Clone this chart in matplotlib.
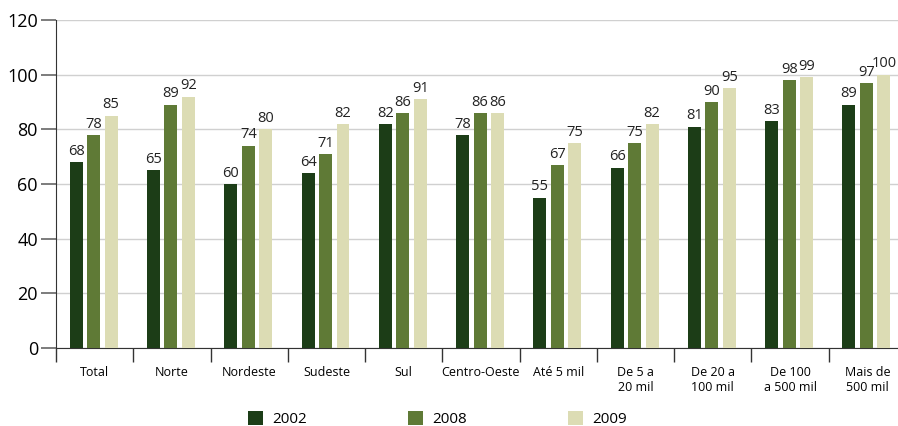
import matplotlib.pyplot as plt
import numpy as np

categories = ['Total', 'Norte', 'Nordeste', 'Sudeste', 'Sul', 'Centro-Oeste',
              'Até 5 mil', 'De 5 a\n20 mil', 'De 20 a\n100 mil', 'De 100\na 500 mil',
              'Mais de\n500 mil']
years = ['2002', '2008', '2009']
v2002 = [68, 65, 60, 64, 82, 78, 55, 66, 81, 83, 89]
v2008 = [78, 89, 74, 71, 86, 86, 67, 75, 90, 98, 97]
v2009 = [85, 92, 80, 82, 91, 86, 75, 82, 95, 99, 100]

colors = ['#1c3d17', '#5f7a36', '#dcdcb4']

plt.rcParams['font.family'] = ['Open Sans', 'DejaVu Sans']

fig = plt.figure(figsize=(8.98, 4.26), dpi=100)
ax = fig.add_axes([56 / 898, 78 / 426, 850 / 898, 328 / 426])

x = np.arange(len(categories))
width = 0.168
step = 0.226
handles = []
for i, (vals, c, yr) in enumerate(zip([v2002, v2008, v2009], colors, years)):
    xs = x + (i - 1) * step - 0.012
    bars = ax.bar(xs, vals, width, color=c, label=yr, zorder=3)
    handles.append(bars)
    for xi, v in zip(xs, vals):
        ax.text(xi, v + 1.2, str(v), ha='center', va='bottom', fontsize=10.5,
                color='#222222')

ax.set_xlim(-0.5, len(categories) - 0.5)
ax.set_ylim(0, 120)
ax.set_yticks(range(0, 121, 20))
ax.yaxis.grid(True, color='#d0d0d0', linewidth=1, zorder=0)
ax.tick_params(axis='y', labelsize=13, length=11, color='#666666', width=1.2, pad=2)

ax.set_xticks(x)
ax.set_xticklabels(categories, fontsize=9)
ax.set_xticks(np.arange(-0.5, len(categories) - 0.5), minor=True)
ax.tick_params(axis='x', which='major', length=0, pad=13)
ax.tick_params(axis='x', which='minor', length=10, color='#333333', width=1)

for s in ['top', 'right']:
    ax.spines[s].set_visible(False)
ax.spines['left'].set_color('#333333')
ax.spines['bottom'].set_color('#333333')

fig.legend(handles=handles, labels=years, loc='lower center', bbox_to_anchor=(0.487, -0.035),
           ncol=3, frameon=False, fontsize=11, handlelength=1.0, handleheight=1.0,
           columnspacing=6.6, handletextpad=0.6)

fig.savefig('out.png', dpi=100)
